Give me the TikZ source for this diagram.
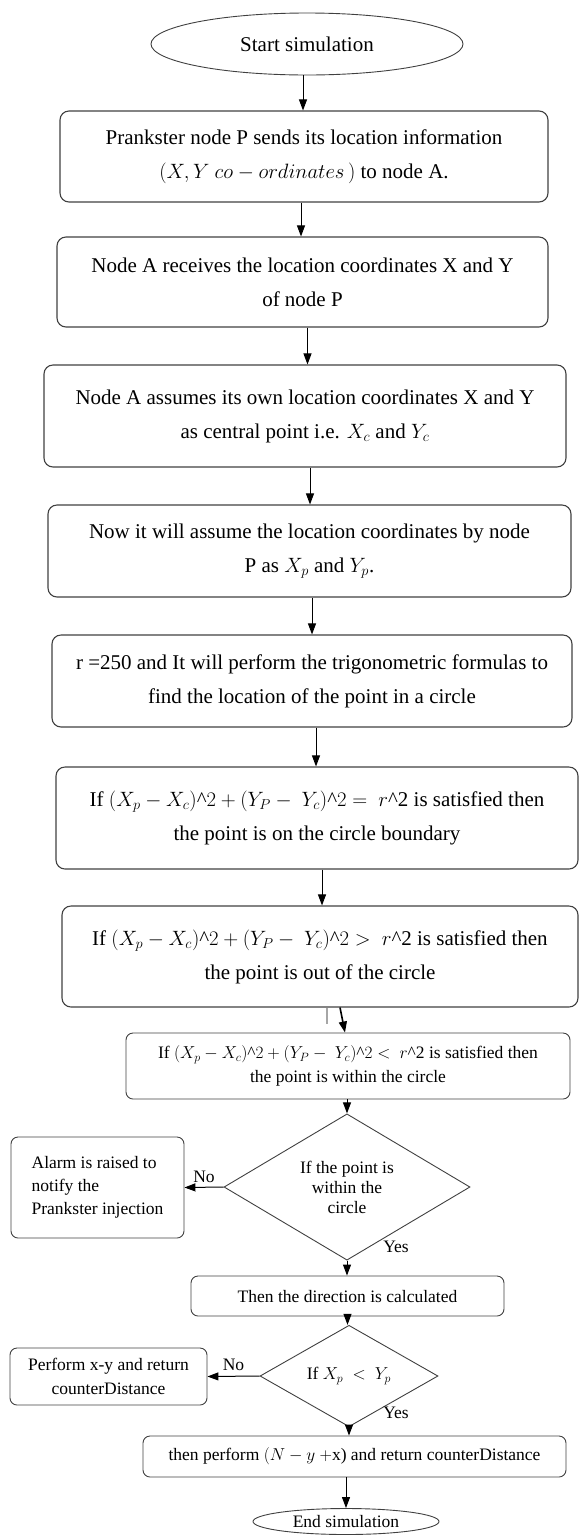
\documentclass[tikz,border=0pt]{standalone}
\usepackage{fontspec}
\setmainfont{Liberation Serif}
\usetikzlibrary{arrows.meta,shapes.geometric}
\newcommand{\sq}{\textasciicircum}

\begin{document}
\begin{tikzpicture}[x=1pt, y=-1pt,
    box/.style={draw=black!75, line width=1.1pt, rounded corners=9pt, align=center, inner sep=0pt, font=\fontsize{21}{34}\selectfont},
    sbox/.style={draw=black!75, line width=0.9pt, rounded corners=7pt, align=center, inner sep=0pt, font=\fontsize{17.5}{24}\selectfont},
    term/.style={draw=black!75, line width=0.9pt, ellipse, inner sep=0pt},
    decide/.style={draw=black!75, line width=0.9pt, diamond, inner sep=0pt, align=center, font=\fontsize{17.5}{20}\selectfont},
    arr/.style={-{Triangle[width=8pt,length=11pt]}, line width=1pt},
    lbl/.style={font=\fontsize{17.5}{20}\selectfont, inner sep=0pt},
]
\useasboundingbox (0,0) rectangle (579,1535);

\node[term, minimum width=312, minimum height=62, font=\fontsize{21}{25}\selectfont] (start) at (307,44) {Start simulation};
\node[box, minimum width=488, minimum height=91] (b1) at (304,156.5)
  {Prankster node P sends its location information\\ $(X,Y\ co-ordinates\,)$ to node A.};
\node[box, minimum width=491, minimum height=90] (b2) at (302.5,282)
  {Node A receives the location coordinates X and Y\\ of node P};
\node[box, minimum width=522, minimum height=102] (b3) at (305,416)
  {Node A assumes its own location coordinates X and Y\\ as central point i.e. $X_c$ and $Y_c$};
\node[box, minimum width=523, minimum height=92] (b4) at (309.5,551)
  {Now it will assume the location coordinates by node\\ P as $X_p$ and $Y_p$.};
\node[box, minimum width=520, minimum height=92] (b5) at (312,681)
  {r =250 and It will perform the trigonometric formulas to\\ find the location of the point in a circle};
\node[box, minimum width=522, minimum height=102] (b6) at (317,818)
  {If $(X_p - X_c)$\sq$2 + (Y_P - \ Y_c)$\sq$2 = \ r$\sq 2 is satisfied then\\ the point is on the circle boundary};
\node[box, minimum width=516, minimum height=101] (b7) at (320,956.5)
  {If $(X_p - X_c)$\sq$2 + (Y_P - \ Y_c)$\sq$2 > \ r$\sq 2 is satisfied then\\ the point is out of the circle};
\node[sbox, minimum width=444, minimum height=66] (b8) at (348,1066)
  {If $(X_p - X_c)$\sq$2 + (Y_P - \ Y_c)$\sq$2 < \ r$\sq 2 is satisfied then\\ the point is within the circle};
\node[decide, minimum width=246, minimum height=128] (d1) at (347,1187)
  {If the point is\\ within the\\ circle};
\node[sbox, align=left, minimum width=173, minimum height=101, font=\fontsize{17.5}{23}\selectfont] (alarm) at (97.5,1187.5)
  {Alarm is raised to\\ notify the\\ Prankster injection};
\node[sbox, minimum width=313, minimum height=40] (b9) at (347.5,1296)
  {Then the direction is calculated};
\node[decide, minimum width=178, minimum height=74] (d2) at (349,1376)
  {If $X_p\ <\ Y_p$};
\node[sbox, minimum width=197, minimum height=57] (perf) at (108.5,1376.5)
  {Perform x-y and return\\ counterDistance};
\node[sbox, minimum width=423, minimum height=41] (b10) at (354.5,1456.5)
  {then perform $(N - y\ +$x) and return counterDistance};
\node[term, minimum width=186, minimum height=26, font=\fontsize{17.5}{20}\selectfont] (stop) at (346,1521.5) {End simulation};

\node[lbl] (yes1) at (396,1247) {Yes};
\node[lbl] (yes2) at (396,1413) {Yes};

\draw[arr] ([xshift=-4pt]start.south) -- ([xshift=-4pt]start.south |- b1.north);
\draw[arr] ([xshift=-3pt]b1.south) -- ([xshift=-3pt]b1.south |- b2.north);
\draw[arr] ([xshift=5pt]b2.south) -- ([xshift=5pt]b2.south |- b3.north);
\draw[arr] ([xshift=5pt]b3.south) -- ([xshift=5pt]b3.south |- b4.north);
\draw[arr] ([xshift=2.5pt]b4.south) -- ([xshift=2.5pt]b4.south |- b5.north);
\draw[arr] ([xshift=4pt]b5.south) -- ([xshift=4pt]b5.south |- b6.north);
\draw[arr] ([xshift=5pt]b6.south) -- ([xshift=5pt]b6.south |- b7.north);
\draw[gray!70, line width=1.5pt] ([xshift=7pt]b7.south) -- ++(0,16);
\draw[arr, line width=1.6pt] ([xshift=20pt]b7.south) -- ([xshift=-3pt]b8.north);
\draw[arr] (b8.south -| d1.north) -- (d1.north);
\draw[arr] (d1.west) -- node[lbl, above=4pt] {No} (alarm.east);
\draw[arr] (d1.south) -- (d1.south |- b9.north);
\draw[arr] (b9.south) -- (b9.south |- d2.north);
\draw[arr] (d2.west) -- node[lbl, above=5pt] {No} (perf.east);
\draw[arr] (d2.south) -- (d2.south |- b10.north);
\draw[arr] (stop.north |- b10.south) -- (stop.north);
\end{tikzpicture}
\end{document}
